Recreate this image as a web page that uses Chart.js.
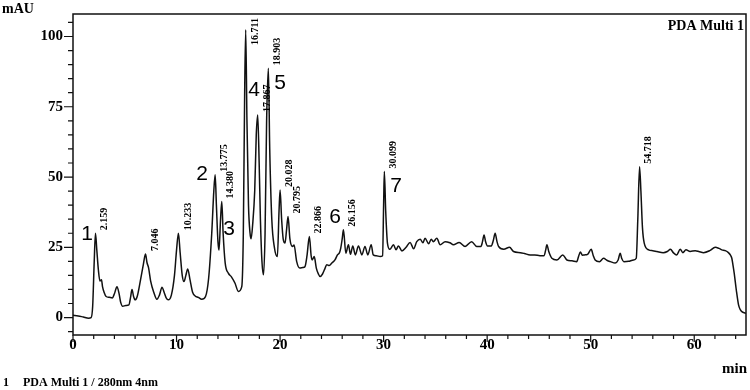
<!DOCTYPE html>
<html>
<head>
  <title>PDA Multi 1 chromatogram</title>
  <script src="https://cdn.jsdelivr.net/npm/chart.js"></script>
  <style>
    body { margin: 0; background: #fff; }
    #wrap { width: 750px; height: 390px; }
  </style>
</head>
<body>
  <div id="wrap">
    <canvas id="chromChart" width="750" height="390"></canvas>
  </div>

  <script>
    // retention time (min) and detector signal (mAU)
    const rtMin = [
      0.0, 0.5, 1.0, 1.5, 1.75, 1.9, 2.05, 2.17, 2.3, 2.45, 2.6, 2.75, 2.85, 3.0, 3.2, 3.5, 3.8,
      4.0, 4.25, 4.45, 4.6, 4.8, 5.1, 5.4, 5.55, 5.7, 5.85, 6.0, 6.2, 6.5, 6.8, 7.0, 7.15, 7.3,
      7.5, 7.8, 8.1, 8.35, 8.6, 8.8, 9.0, 9.2, 9.5, 9.8, 10.0, 10.18, 10.35, 10.55, 10.72, 10.9,
      11.08, 11.3, 11.55, 11.8, 12.1, 12.43, 12.8, 13.1, 13.4, 13.6, 13.73, 13.85, 14.0, 14.1,
      14.25, 14.37, 14.5, 14.7, 15.0, 15.3, 15.65, 15.97, 16.3, 16.45, 16.58, 16.68, 16.8, 16.95,
      17.1, 17.2, 17.35, 17.55, 17.7, 17.84, 17.98, 18.1, 18.25, 18.4, 18.55, 18.7, 18.87, 19.0,
      19.2, 19.45, 19.74, 19.9, 20.0, 20.15, 20.3, 20.48, 20.62, 20.77, 20.95, 21.2, 21.35, 21.6,
      21.9, 22.2, 22.4, 22.6, 22.83, 23.0, 23.1, 23.3, 23.5, 23.7, 23.86, 24.1, 24.35, 24.5,
      24.75, 25.0, 25.3, 25.54, 25.74, 25.86, 26.0, 26.12, 26.35, 26.6, 26.8, 27.02, 27.27,
      27.57, 27.9, 28.2, 28.47, 28.8, 29.0, 29.3, 29.66, 29.9, 30.0, 30.07, 30.2, 30.37, 30.6,
      30.95, 31.2, 31.43, 31.77, 32.17, 32.56, 32.9, 33.2, 33.53, 33.8, 34.0, 34.35, 34.6, 34.8,
      35.14, 35.46, 35.94, 36.4, 36.74, 37.3, 37.87, 38.5, 39.0, 39.4, 39.55, 39.7, 39.85, 40.03,
      40.4, 40.6, 40.77, 40.95, 41.1, 41.6, 42.16, 42.55, 43.2, 43.6, 44.15, 44.6, 45.1, 45.5,
      45.65, 45.77, 45.95, 46.25, 46.74, 47.3, 47.7, 48.2, 48.65, 48.85, 49.0, 49.2, 49.4, 49.7,
      50.05, 50.25, 50.43, 50.85, 51.24, 51.6, 51.9, 52.37, 52.65, 52.85, 53.0, 53.2, 53.65,
      54.14, 54.4, 54.55, 54.72, 54.85, 55.0, 55.17, 55.6, 56.0, 56.4, 57.0, 57.4, 57.7, 58.0,
      58.3, 58.65, 58.9, 59.2, 59.6, 60.1, 60.5, 60.9, 61.5, 62.03, 62.4, 62.67, 63.0, 63.3,
      63.5, 63.63, 63.75, 63.86, 64.06, 64.28, 64.45, 64.6, 64.93, 65.0
    ];
    const signal = [
      0.8, 0.6, 0.2, -0.2, 0.0, 4, 20, 30, 24, 17, 13, 13.5, 11, 9, 7.5, 7.2, 7.0,
      8.5, 11, 8.5, 5.5, 4.0, 4.3, 4.5, 7, 10, 7.5, 6.3, 7.5, 13, 19, 22.6, 19.5, 17.7,
      13, 9, 6.5, 8, 10.8, 9, 7, 6.3, 8, 15, 24, 30, 23, 15, 12.8, 15,
      17.3, 13.5, 9, 7.7, 7.2, 6.5, 7.5, 14, 30, 45, 50.8, 40, 27, 24,
      35, 41.3, 30, 19.4, 15.8, 14.5, 12.2, 9.3, 11, 30, 80, 102.4, 70, 40,
      30, 28, 33, 45, 65, 72.1, 55, 35, 20, 15.2, 30, 70, 88.7, 60,
      35, 25, 21.7, 38, 45.4, 35, 28, 26.5, 31, 36, 28, 25.3, 25.8, 20,
      17.6, 17.8, 18.1, 22, 28.8, 22, 20.5, 21.7, 17.6, 15.5, 14.6, 15.5, 17.6, 18.8,
      18.5, 19.4, 20.5, 22.3, 23.1, 24.7, 28, 31.2, 22.9, 25.9, 22.5, 25.5, 22.3,
      25.5, 22.3, 25.3, 22.3, 25.9, 22.3, 22, 21.7, 22, 40, 52, 38, 26.5, 24.3,
      25.9, 24.1, 25.5, 23.7, 25.0, 26.7, 24.5, 27.0, 27.9, 26.6, 28.2, 26.3, 27.9, 27,
      28.2, 25.9, 27, 26.6, 25.9, 26.7, 25.3, 27, 25.3, 25.3, 27, 29.4, 27, 25.5,
      25.5, 27.5, 30, 27, 25.3, 24.3, 25, 23.5, 23.1, 22.8, 22.3, 22.3, 22, 22,
      24, 25.9, 23.5, 21.1, 20.5, 22.3, 20.5, 20.2, 19.9, 22, 23.3, 22.2, 22.3, 22.5,
      24.3, 22, 20.5, 19.9, 21.1, 20.3, 19.9, 19.4, 20.5, 22.9, 21, 19.9, 20,
      20.5, 21.1, 35, 53.7, 45, 32, 26.5, 24.1, 23.8, 23.5, 23.1, 23.5, 24.3, 23,
      22.3, 24.3, 23.1, 24.1, 23.5, 23.8, 23.4, 23.1, 23.8, 25, 24.6, 24.1, 23.8, 23.1,
      22.2, 21.1, 18.5, 15.8, 9.9, 4.5, 2.8, 2.1, 1.6, 1.5
    ];

    // integrated peaks: retention times printed above the trace
    const peakTimes = [2.159, 7.046, 10.233, 13.775, 14.380, 16.711, 17.867, 18.903,
                       20.028, 20.795, 22.866, 26.156, 30.099, 54.718];
    const peakLabels = ["2.159", "7.046", "10.233", "13.775", "14.380", "16.711", "17.867",
                        "18.903", "20.028", "20.795", "22.866", "26.156", "30.099", "54.718"];

    // compound numbers 1-7, placed at (min, mAU)
    const compoundNames = ["1", "2", "3", "4", "5", "6", "7"];
    const compoundTime = [1.35, 12.46, 15.07, 17.49, 20.0, 25.31, 31.2];
    const compoundMAU = [29.8, 51.1, 31.6, 81.0, 83.5, 35.8, 46.9];

    const serif = '"Liberation Serif", "Times New Roman", serif';
    const sans = '"Liberation Sans", Arial, sans-serif';

    const points = rtMin.map((t, i) => ({ x: t, y: signal[i] }));

    // highest signal near a time, used to sit a label on top of its peak
    function peakHeight(t) {
      let best = -Infinity;
      rtMin.forEach((r, i) => {
        if (Math.abs(r - t) <= 0.25 && signal[i] > best) best = signal[i];
      });
      return best;
    }

    const decorations = {
      id: "decorations",
      afterDraw(chart) {
        const ctx = chart.ctx;
        const area = chart.chartArea;
        const xs = chart.scales.x;
        const ys = chart.scales.y;
        ctx.save();
        ctx.strokeStyle = "#111";
        ctx.fillStyle = "#000";

        // frame
        ctx.lineWidth = 1.5;
        ctx.strokeRect(area.left, area.top, area.right - area.left, area.bottom - area.top);

        // tick marks, long on labelled values
        ctx.lineWidth = 1.2;
        ctx.beginPath();
        xs.ticks.forEach(tk => {
          const px = xs.getPixelForValue(tk.value);
          const len = tk.value % 10 === 0 ? 7 : 4;
          ctx.moveTo(px, area.bottom);
          ctx.lineTo(px, area.bottom + len);
        });
        ys.ticks.forEach(tk => {
          const py = ys.getPixelForValue(tk.value);
          const len = tk.value % 25 === 0 ? 9 : 5;
          ctx.moveTo(area.left, py);
          ctx.lineTo(area.left - len, py);
        });
        ctx.stroke();

        // axis names and channel
        ctx.font = "bold 14px " + serif;
        ctx.textAlign = "left";
        ctx.textBaseline = "alphabetic";
        ctx.fillText("mAU", 2, 13);
        ctx.textAlign = "right";
        ctx.fillText("PDA Multi 1", area.right - 2, 30);
        ctx.font = "bold 15px " + serif;
        ctx.fillText("min", 747, 373);

        // channel legend under the plot
        ctx.font = "bold 12px " + serif;
        ctx.textAlign = "left";
        ctx.fillText("1", 3, 386);
        ctx.fillText("PDA Multi 1 / 280nm 4nm", 23, 386);

        // retention times, rotated, just right of each peak top
        ctx.font = "bold 10px " + serif;
        ctx.textBaseline = "middle";
        peakTimes.forEach((t, i) => {
          const px = xs.getPixelForValue(t) + 9;
          const w = ctx.measureText(peakLabels[i]).width;
          let py = ys.getPixelForValue(peakHeight(t)) - 3;
          py = Math.max(py, area.top + 4 + w);
          ctx.save();
          ctx.translate(px, py);
          ctx.rotate(-Math.PI / 2);
          ctx.fillText(peakLabels[i], 0, 0);
          ctx.restore();
        });

        // compound numbers
        ctx.font = "21px " + sans;
        ctx.textAlign = "center";
        compoundNames.forEach((n, i) => {
          ctx.fillText(n, xs.getPixelForValue(compoundTime[i]), ys.getPixelForValue(compoundMAU[i]));
        });
        ctx.restore();
      }
    };

    // keep tick labels from pushing the plot area around
    function noOverflow(scale) {
      scale.paddingTop = 0;
      scale.paddingBottom = 0;
      scale.paddingLeft = 0;
      scale.paddingRight = 0;
    }

    const ctx = document.getElementById("chromChart").getContext("2d");
    new Chart(ctx, {
      type: "line",
      data: {
        datasets: [{
          data: points,
          borderColor: "#111",
          borderWidth: 1.5,
          pointRadius: 0,
          cubicInterpolationMode: "monotone",
          fill: false
        }]
      },
      options: {
        responsive: false,
        animation: false,
        layout: { padding: { top: 14, right: 4, left: 0, bottom: 0 } },
        plugins: { legend: { display: false }, tooltip: { enabled: false } },
        scales: {
          x: {
            type: "linear",
            min: 0,
            max: 65,
            grid: { display: false, drawTicks: false },
            border: { display: false },
            ticks: {
              stepSize: 2,
              includeBounds: false,
              autoSkip: false,
              maxRotation: 0,
              padding: 1,
              color: "#000",
              font: { family: serif, size: 15, weight: "bold" },
              callback: v => (v % 10 === 0 ? v : "")
            },
            afterFit: scale => { scale.height = 55; noOverflow(scale); }
          },
          y: {
            min: -6.2,
            max: 108,
            grid: { display: false, drawTicks: false },
            border: { display: false },
            ticks: {
              stepSize: 5,
              includeBounds: false,
              autoSkip: false,
              padding: 10,
              color: "#000",
              font: { family: serif, size: 15, weight: "bold" },
              callback: v => (v % 25 === 0 && v >= 0 ? v : "")
            },
            afterFit: scale => { scale.width = 73; noOverflow(scale); }
          }
        }
      },
      plugins: [decorations]
    });
  </script>
</body>
</html>
